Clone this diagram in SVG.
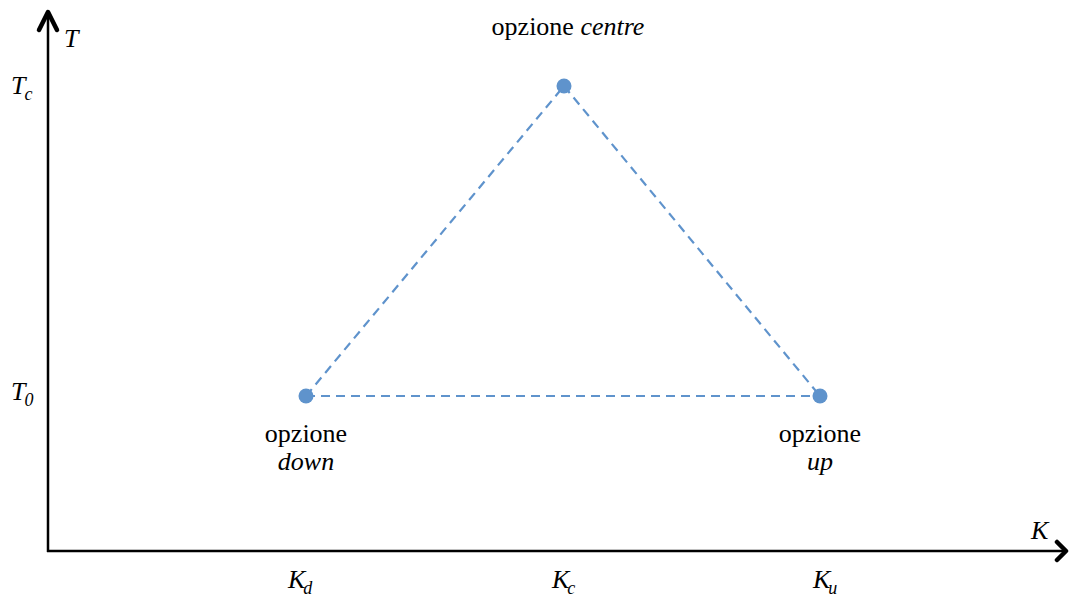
<svg xmlns="http://www.w3.org/2000/svg" width="1069" height="599" viewBox="0 0 1069 599">
<style>
text{font-family:"Liberation Serif","Times New Roman","DejaVu Serif",serif;fill:#000;font-size:26px}
.i{font-style:italic}
.s{font-size:18px}
.dash{stroke:#5F93CC;stroke-width:2.2;stroke-dasharray:9 6;fill:none}
.pt{fill:#5F93CC}
.ax{stroke:#000;stroke-width:2.5;fill:none}
.hd{stroke:#000;stroke-width:4.5;fill:none;stroke-linecap:round;stroke-linejoin:round}
</style>
<rect width="1069" height="599" fill="#fff"/>
<g id="axes">
<line class="ax" x1="48" y1="552" x2="48" y2="12"/>
<line class="ax" x1="47" y1="551" x2="1065" y2="551"/>
<polyline class="hd" points="39,30 48,12 57,30"/>
<polyline class="hd" points="1057,542 1066,551 1057,560"/>
<text class="i" x="64" y="47" font-family="Liberation Serif, serif">T</text>
<text class="i" x="1031" y="539" font-family="Liberation Serif, serif">K</text>
</g>
<g id="connectors">
<line class="dash" x1="306" y1="396" x2="564" y2="86"/>
<line class="dash" x1="564" y1="86" x2="820" y2="396"/>
<line class="dash" x1="306" y1="396" x2="820" y2="396"/>
</g>
<g id="node-centre">
<circle class="pt" cx="564" cy="86" r="7.5"/>
<text x="568" y="35" text-anchor="middle" font-family="Liberation Serif, serif">opzione <tspan class="i">centre</tspan></text>
</g>
<g id="node-down">
<circle class="pt" cx="306" cy="396" r="7.5"/>
<text x="306" y="442" text-anchor="middle" font-family="Liberation Serif, serif">opzione</text>
<text class="i" x="306" y="470" text-anchor="middle" font-family="Liberation Serif, serif">down</text>
</g>
<g id="node-up">
<circle class="pt" cx="820" cy="396" r="7.5"/>
<text x="820" y="442" text-anchor="middle" font-family="Liberation Serif, serif">opzione</text>
<text class="i" x="820" y="470" text-anchor="middle" font-family="Liberation Serif, serif">up</text>
</g>
<g id="ticks">
<text class="i" x="11" y="94">T<tspan class="s" dy="6" dx="-1">c</tspan></text>
<text class="i" x="11" y="400">T<tspan class="s" dy="6" dx="-1">0</tspan></text>
<text class="i" x="288" y="588">K<tspan class="s" dy="6" dx="-2">d</tspan></text>
<text class="i" x="552" y="588">K<tspan class="s" dy="6" dx="-2">c</tspan></text>
<text class="i" x="813" y="588">K<tspan class="s" dy="6" dx="-2">u</tspan></text>
</g>
</svg>
